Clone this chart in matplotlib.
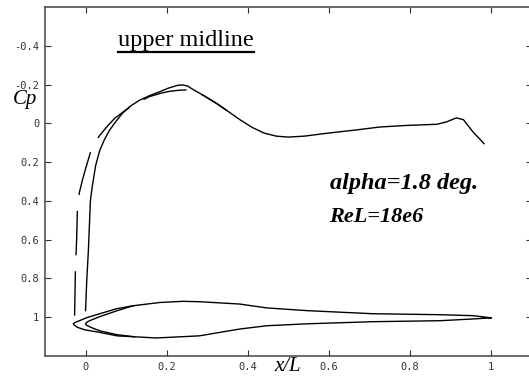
import matplotlib
matplotlib.use("Agg")
import matplotlib.pyplot as plt
from matplotlib.lines import Line2D

# upper-surface Cp, solid curve
x_cp_solid = [0.000, 0.003, 0.007, 0.012, 0.017, 0.025, 0.035, 0.047, 0.059, 0.075,
              0.091, 0.110, 0.133, 0.158, 0.183, 0.205, 0.227, 0.240, 0.252, 0.264,
              0.290, 0.323, 0.350, 0.380, 0.410, 0.440, 0.470, 0.500, 0.540, 0.600,
              0.660, 0.726, 0.790, 0.866, 0.890, 0.905, 0.915, 0.932, 0.956, 0.983]
cp_solid = [0.966, 0.810, 0.656, 0.398, 0.320, 0.217, 0.140, 0.082, 0.036, -0.010,
            -0.052, -0.088, -0.119, -0.143, -0.163, -0.182, -0.196, -0.198, -0.192, -0.176,
            -0.145, -0.103, -0.064, -0.020, 0.020, 0.050, 0.066, 0.071, 0.066, 0.050,
            0.036, 0.019, 0.011, 0.005, -0.007, -0.020, -0.028, -0.019, 0.045, 0.105]

# upper-surface Cp, dashed curve (joins the solid one past the peak)
x_cp_dash = [-0.027, -0.025, -0.022, -0.020, -0.015, -0.008, 0.000, 0.015, 0.035, 0.055,
             0.072, 0.095, 0.116, 0.140, 0.158, 0.185, 0.207, 0.232, 0.250, 0.264, 0.290,
             0.323, 0.350]
cp_dash = [0.992, 0.760, 0.600, 0.439, 0.355, 0.295, 0.235, 0.129, 0.062, 0.012,
           -0.026, -0.062, -0.093, -0.120, -0.138, -0.155, -0.165, -0.171, -0.172, -0.170, -0.145,
           -0.103, -0.064]

# section outline drawn around Cp = 1
x_outer = [1.000, 0.956, 0.874, 0.709, 0.546, 0.447, 0.380, 0.281, 0.240, 0.183,
           0.117, 0.077, 0.035, 0.002, -0.015, -0.027, -0.030, -0.027, -0.020, -0.002,
           0.035, 0.077, 0.175, 0.281, 0.380, 0.447, 0.546, 0.709, 0.874, 0.956, 1.000]
y_outer = [1.003, 0.992, 0.987, 0.982, 0.966, 0.952, 0.932, 0.920, 0.918, 0.924,
           0.941, 0.956, 0.982, 1.003, 1.018, 1.028, 1.034, 1.042, 1.052, 1.065,
           1.078, 1.096, 1.107, 1.096, 1.061, 1.044, 1.034, 1.023, 1.018, 1.009, 1.003]

x_inner = [0.117, 0.077, 0.035, 0.010, 0.003, 0.000, 0.003, 0.015, 0.035, 0.077, 0.121]
y_inner = [0.941, 0.967, 0.997, 1.018, 1.026, 1.034, 1.042, 1.054, 1.070, 1.090, 1.101]

xticks = [0, 0.2, 0.4, 0.6, 0.8, 1]
xticklabels = ["0", "0.2", "0.4", "0.6", "0.8", "1"]
yticks = [-0.4, -0.2, 0, 0.2, 0.4, 0.6, 0.8, 1]
yticklabels = ["-0.4", "-0.2", "0", "0.2", "0.4", "0.6", "0.8", "1"]

W, H = 529, 376
fig = plt.figure(figsize=(W / 100, H / 100), dpi=100, facecolor="white")
ax = fig.add_axes([45 / W, 1 - 356 / H, 486.5 / W, 349 / H])

ax.plot(x_cp_solid, cp_solid, color="black", lw=1.0)
ax.plot(x_cp_dash, cp_dash, color="black", lw=1.0, linestyle=(0, (32, 11.5)))
ax.plot(x_outer, y_outer, color="black", lw=1.0)
ax.plot(x_inner, y_inner, color="black", lw=1.0)

ax.set_xlim(-0.1, 1.1)
ax.set_ylim(1.2, -0.6)
ax.set_xticks(xticks)
ax.set_xticklabels(xticklabels, fontfamily="DejaVu Sans Mono", fontsize=7.5, color="#333333")
ax.set_yticks(yticks)
ax.set_yticklabels(yticklabels, fontfamily="DejaVu Sans Mono", fontsize=7.5, color="#333333")
ax.tick_params(direction="in", length=4, width=0.8, top=True, right=True,
               color="#333333", pad=4)
for s in ax.spines.values():
    s.set_color("#444444")
    s.set_linewidth(1.1)

serif = ["Liberation Serif", "DejaVu Serif"]
title = fig.text(118 / W, 1 - 46 / H, "upper midline", family=serif, fontsize=17.5,
                 ha="left", va="baseline")
fig.text(25 / W, 1 - 104 / H, "Cp", family=serif, style="italic", fontsize=15,
         ha="center", va="baseline")
fig.text(288 / W, 1 - 371 / H, "x/L", family=serif, style="italic", fontsize=15,
         ha="center", va="baseline")
fig.text(330 / W, 1 - 189 / H, "alpha=1.8 deg.", family=serif, style="italic",
         weight="bold", fontsize=17.5, ha="left", va="baseline")
fig.text(329 / W, 1 - 222 / H, "ReL=18e6", family=serif, style="italic",
         weight="bold", fontsize=16, ha="left", va="baseline")

# underline under the title
fig.canvas.draw()
bb = title.get_window_extent().transformed(fig.transFigure.inverted())
uy = 1 - 52 / H
fig.add_artist(Line2D([bb.x0, bb.x1], [uy, uy], color="black", lw=1.6,
                      transform=fig.transFigure))

fig.savefig("out.png", dpi=100, facecolor="white")
